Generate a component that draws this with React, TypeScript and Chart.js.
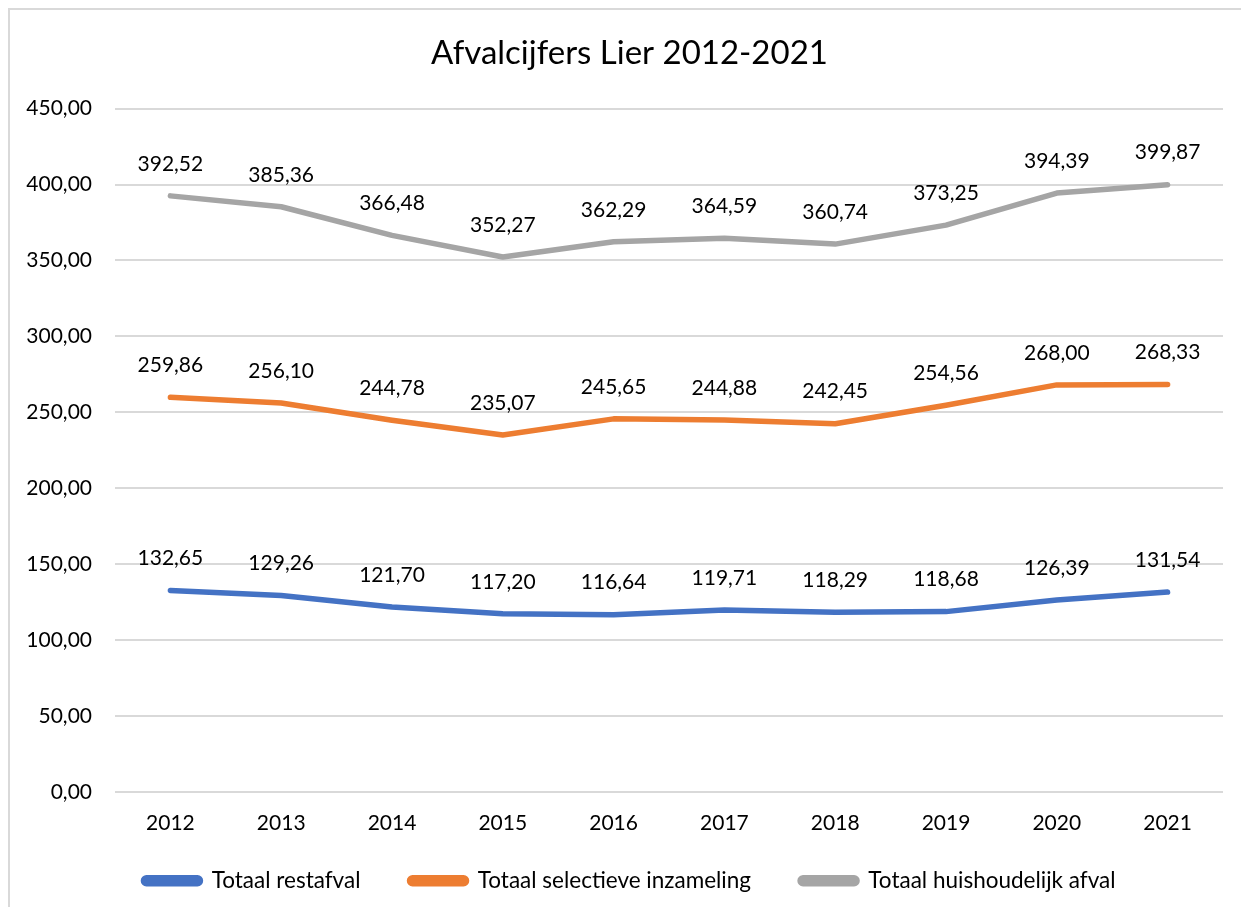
import React, { useEffect, useRef } from "react";
import { Chart, registerables } from "chart.js";

Chart.register(...registerables);

const years = ["2012", "2013", "2014", "2015", "2016", "2017", "2018", "2019", "2020", "2021"];
const restafval = [132.65, 129.26, 121.7, 117.2, 116.64, 119.71, 118.29, 118.68, 126.39, 131.54];
const selectieve = [259.86, 256.1, 244.78, 235.07, 245.65, 244.88, 242.45, 254.56, 268.0, 268.33];
const huishoudelijk = [392.52, 385.36, 366.48, 352.27, 362.29, 364.59, 360.74, 373.25, 394.39, 399.87];
const yTicksMin = 0;
const yTicksMax = 450;
const yTickStep = 50;

const FONT = "Lato, 'Open Sans', sans-serif";
const fmt = (v: number) => v.toFixed(2).replace(".", ",");

const labelPlugin = {
  id: "pointLabels",
  afterDatasetsDraw(chart: any) {
    const ctx = chart.ctx;
    ctx.save();
    ctx.font = `21px ${FONT}`;
    ctx.fillStyle = "#000";
    ctx.textAlign = "center";
    ctx.textBaseline = "middle";
    chart.data.datasets.forEach((ds: any, i: number) => {
      const meta = chart.getDatasetMeta(i);
      meta.data.forEach((pt: any, j: number) => {
        ctx.fillText(fmt(ds.data[j]), pt.x, pt.y - 32);
      });
    });
    ctx.restore();
  },
};

export default function App() {
  const ref = useRef<HTMLCanvasElement>(null);
  useEffect(() => {
    if (!ref.current) return;
    const mk = (label: string, data: number[], color: string) => ({
      label,
      data,
      borderColor: color,
      backgroundColor: color,
      borderWidth: 5.5,
      borderCapStyle: "round" as const,
      borderJoinStyle: "round" as const,
      pointRadius: 0,
      tension: 0,
    });
    const chart = new Chart(ref.current, {
      type: "line",
      data: {
        labels: years,
        datasets: [
          mk("Totaal restafval", restafval, "#4472c4"),
          mk("Totaal selectieve inzameling", selectieve, "#ed7d31"),
          mk("Totaal huishoudelijk afval", huishoudelijk, "#a5a5a5"),
        ],
      },
      options: {
        animation: false,
        responsive: false,
        maintainAspectRatio: false,
        layout: { padding: { left: 0, right: 0, top: 0, bottom: 0 } },
        plugins: {
          title: {
            display: true,
            text: "Afvalcijfers Lier 2012-2021",
            color: "#000",
            font: { family: FONT, size: 33, weight: "normal" },
            padding: { top: 24, bottom: 35 },
          },
          legend: {
            position: "bottom",
            labels: {
              color: "#000",
              font: { family: FONT, size: 22.5 },
              boxWidth: 57,
              boxHeight: 6,
              useBorderRadius: true,
              borderRadius: 3,
              padding: 14.5,
              generateLabels: (c: any) => {
                const items = Chart.defaults.plugins.legend.labels.generateLabels(c);
                return items.map((it: any, i: number) =>
                  i < items.length - 1 ? { ...it, text: it.text + "      " } : it
                );
              },
            },
          },
          tooltip: { enabled: false },
        },
        scales: {
          x: {
            offset: true,
            grid: { display: false, drawTicks: false },
            border: { display: false },
            ticks: { color: "#000", font: { family: FONT, size: 21 }, padding: 19 },
          },
          y: {
            min: yTicksMin,
            max: yTicksMax,
            afterFit: (s: any) => {
              s.width = 105;
            },
            ticks: {
              stepSize: yTickStep,
              color: "#000",
              font: { family: FONT, size: 21 },
              padding: 23,
              callback: (v: any) => fmt(Number(v)),
            },
            grid: { color: "#d9d9d9", lineWidth: 2, drawTicks: false },
            border: { display: false },
          },
          yr: {
            type: "linear",
            position: "right",
            min: yTicksMin,
            max: yTicksMax,
            afterFit: (s: any) => {
              s.width = 26;
            },
            ticks: { display: false },
            grid: { display: false, drawTicks: false },
            border: { display: false },
          },
        },
      },
      plugins: [labelPlugin],
    });
    return () => chart.destroy();
  }, []);
  return (
    <div
      style={{
        width: 1239,
        height: 897,
        overflow: "hidden",
        borderTop: "2px solid #d9d9d9",
        borderLeft: "2px solid #d9d9d9",
        background: "#fff",
      }}
    >
      <canvas ref={ref} width={1239} height={892} style={{ display: "block" }} />
    </div>
  );
}
